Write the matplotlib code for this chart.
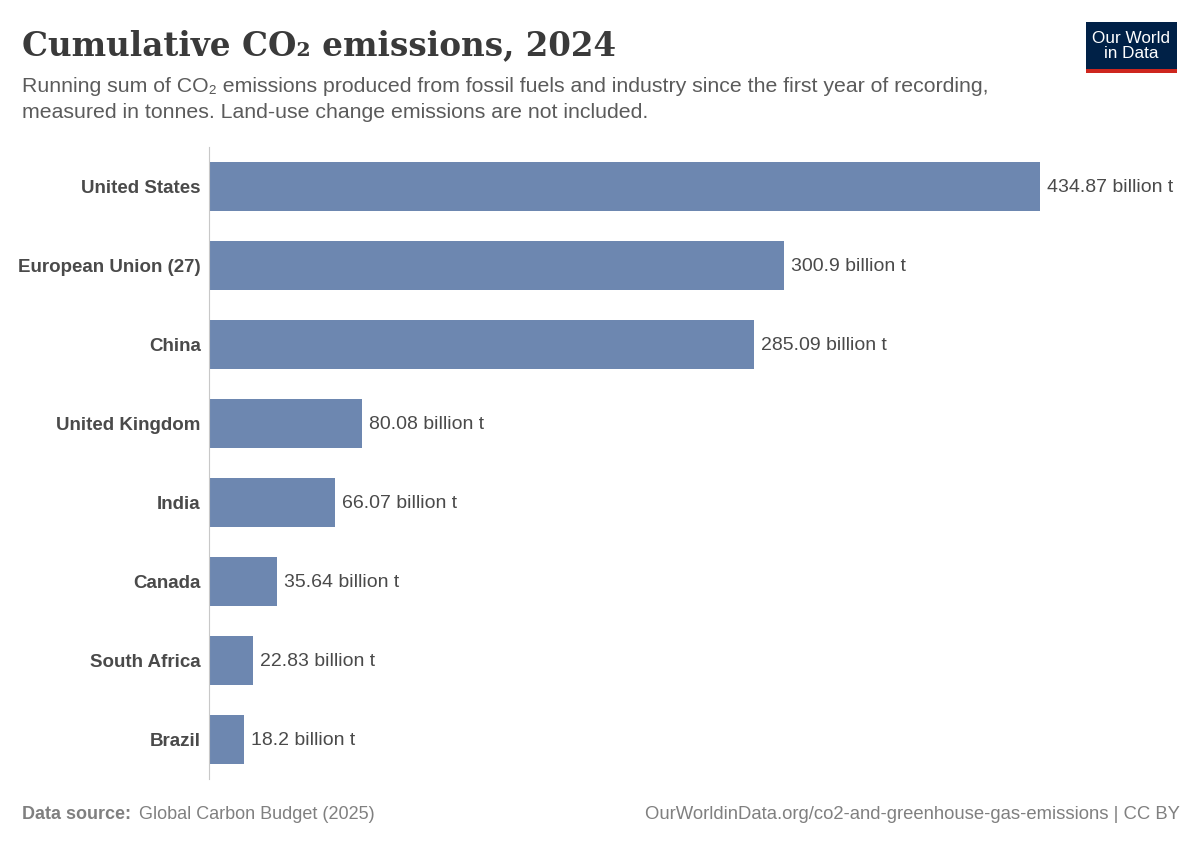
import matplotlib.pyplot as plt
from matplotlib.patches import Rectangle

countries = ["United States", "European Union (27)", "China", "United Kingdom",
             "India", "Canada", "South Africa", "Brazil"]
values = [434.87, 300.9, 285.09, 80.08, 66.07, 35.64, 22.83, 18.2]
value_labels = ["434.87 billion t", "300.9 billion t", "285.09 billion t", "80.08 billion t",
                "66.07 billion t", "35.64 billion t", "22.83 billion t", "18.2 billion t"]

W, H = 1200, 847
fig = plt.figure(figsize=(W / 100, H / 100), dpi=100)
fig.patch.set_facecolor("white")

sans = ["Liberation Sans", "DejaVu Sans"]
serif = ["DejaVu Serif"]
grey = "#5b5b5b"

# axes: x from 209 to 1040 px, y from 147 to 779 px
ax = fig.add_axes([209 / W, 1 - 779 / H, 831 / W, 632 / H])
ypos = list(range(len(countries)))
ax.barh(ypos, values, height=0.63, color="#6d87b0")
ax.set_xlim(0, values[0])
ax.set_ylim(len(countries) - 0.5, -0.5)
for s in ["top", "right", "bottom"]:
    ax.spines[s].set_visible(False)
ax.spines["left"].set_color("#c8c8c8")
ax.set_xticks([])
ax.set_yticks(ypos)
ax.set_yticklabels(countries, fontsize=13.5, fontweight="bold", color="#4a4a4a", family=sans)
ax.tick_params(axis="y", length=0, pad=6)
px = values[0] / 831
for y, v, lab in zip(ypos, values, value_labels):
    ax.text(v + 7 * px, y + 0.01, lab, va="center", ha="left", fontsize=14,
            color="#4a4a4a", family=sans, clip_on=False)

# title and subtitle
fig.text(22 / W, 1 - 46 / H, "Cumulative CO₂ emissions, 2024", fontsize=23.5, fontweight="bold",
         color="#3a3a3a", family=serif, va="center", ha="left")
fig.text(22 / W, 1 - 87 / H, "Running sum of CO₂ emissions produced from fossil fuels and industry since the first year of recording,",
         fontsize=15.3, color=grey, family=sans, va="center", ha="left")
fig.text(22 / W, 1 - 112 / H, "measured in tonnes. Land-use change emissions are not included.",
         fontsize=15.3, color=grey, family=sans, va="center", ha="left")

# logo
fig.patches.append(Rectangle((1086 / W, 1 - 73 / H), 91 / W, 51 / H, transform=fig.transFigure,
                             facecolor="#002147", edgecolor="none"))
fig.patches.append(Rectangle((1086 / W, 1 - 73 / H), 91 / W, 4 / H, transform=fig.transFigure,
                             facecolor="#ce261e", edgecolor="none"))
fig.text(1131.5 / W, 1 - 46 / H, "Our World\nin Data", fontsize=12.3, color="white", family=sans,
         ha="center", va="center", linespacing=0.95)

# footer
fig.text(22 / W, 1 - 814 / H, "Data source:", fontsize=13, fontweight="bold", color="#808080",
         family=sans, va="center", ha="left")
fig.text(139 / W, 1 - 814 / H, "Global Carbon Budget (2025)", fontsize=13, color="#808080",
         family=sans, va="center", ha="left")
fig.text(1180 / W, 1 - 814 / H, "OurWorldinData.org/co2-and-greenhouse-gas-emissions | CC BY",
         fontsize=13.3, color="#808080", family=sans, va="center", ha="right")

fig.savefig("out.png", dpi=100, facecolor="white")
